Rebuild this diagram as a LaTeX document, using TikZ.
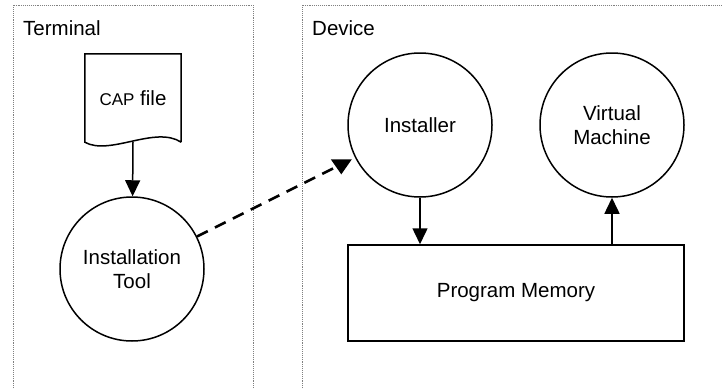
\documentclass[tikz,border=0pt]{standalone}
\usepackage{fontspec}
\setmainfont{Liberation Sans}
\usepackage{tikz}
\usetikzlibrary{arrows.meta}
\usetikzlibrary{positioning}
\usetikzlibrary{calc}
\newcommand{\pnode}[3]{\node(#1)[proc] at (#2) {#3}}
\newcommand{\framelabel}[2]{\node[flabel] at (#1) {#2}}

\begin{document}
\begin{tikzpicture}[
        x=1pt, y=-1pt,
        every node/.style={font=\fontsize{20.5}{24}\selectfont},
        proc/.style={circle,draw=black,line width=1.5pt,minimum size=144pt,
                     inner sep=0pt,align=center},
        store/.style={rectangle,draw=black,line width=1.5pt,
                      minimum width=336pt,minimum height=96pt},
        flabel/.style={anchor=west,inner sep=0pt},
        frame/.style={gray,densely dotted,line width=0.9pt},
        flow/.style={line width=1.5pt,-{Triangle[width=15pt,length=16pt]}},
        link/.style={line width=2.6pt,dash pattern=on 12pt off 8pt}
      ]
      \useasboundingbox (0,0) rectangle (722,388);

      % The two dotted frames, open at the bottom
      \draw[frame] (13,388) |- (253,5) -- (253,388);
      \draw[frame] (302,388) |- (722,5);
      \framelabel{23,28}{Terminal};
      \framelabel{312,28}{Device};

      % Terminal side: the file and the tool
      \node(capfile)[minimum width=96pt,minimum height=88pt,inner sep=0pt] at (133,98)
        {{\fontsize{17}{20}\selectfont CAP} file};
      \draw[line width=1.5pt] (capfile.south east) -- (capfile.north east) -- (capfile.north west)
        -- (capfile.south west) .. controls +(25,14) and +(-26,-17) .. (capfile.south east);
      \pnode{tool}{132,269}{Installation\\Tool};

      % Device side
      \pnode{installer}{420,125}{Installer};
      \pnode{vm}{612,125}{Virtual\\Machine};
      \node(memory)[store] at (516,293) {Program Memory};

      % Connectors
      \draw[flow] (capfile.south) -- (tool);
      \draw[flow] (installer) -- (installer |- memory.north);
      \draw[flow] (vm |- memory.north) -- (vm);

      % Download link, its head drawn on its own
      \coordinate (linkend) at ($(installer.center)!88pt!(tool.center)$);
      \draw[link] (tool) -- (linkend);
      \fill (linkend) ++(-10.5,-5) -- ++(21,0) -- ++(-10.5,15) -- cycle;
    \end{tikzpicture}
\end{document}
